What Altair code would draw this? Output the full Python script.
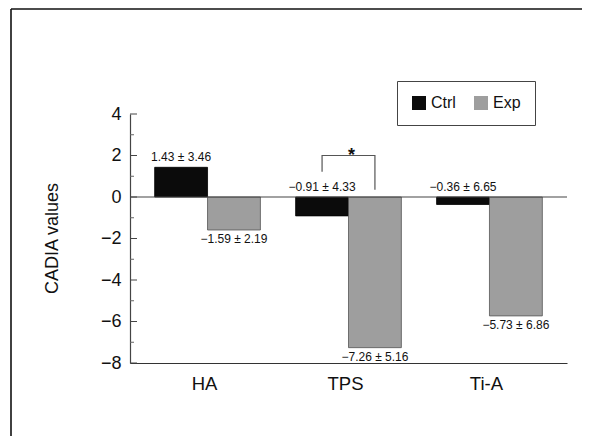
import altair as alt
import pandas as pd

FONT = "Liberation Sans"

categories = ["HA", "TPS", "Ti-A"]
groups = ["Ctrl", "Exp"]
ctrl_means = [1.43, -0.91, -0.36]
ctrl_sds = [3.46, 4.33, 6.65]
exp_means = [-1.59, -7.26, -5.73]
exp_sds = [2.19, 5.16, 6.86]

major_ticks = [-8, -6, -4, -2, 0, 2, 4]
minor_ticks = [-7, -5, -3, -1, 1, 3]

# significance bracket over TPS (Ctrl -> Exp)
bracket_groups = ["Ctrl", "Ctrl", "Exp", "Exp"]
bracket_y = [1.22, 2.0, 2.0, 0.35]
bracket_cat = "TPS"


def fmt(v):
    s = f"{abs(v):.2f}"
    return ("\u2212" + s) if v < 0 else s


rows = []
for i, c in enumerate(categories):
    rows.append({"cat": c, "group": "Ctrl", "value": ctrl_means[i],
                 "label": f"{fmt(ctrl_means[i])} \u00b1 {ctrl_sds[i]:.2f}"})
    rows.append({"cat": c, "group": "Exp", "value": exp_means[i],
                 "label": f"{fmt(exp_means[i])} \u00b1 {exp_sds[i]:.2f}"})
df = pd.DataFrame(rows)

bracket_df = pd.DataFrame({
    "cat": [bracket_cat] * len(bracket_y),
    "group": bracket_groups,
    "y": bracket_y,
    "seq": list(range(len(bracket_y))),
})

x_scale = alt.Scale(domain=categories, paddingInner=0.25, paddingOuter=0.175)
xo_scale = alt.Scale(domain=groups, paddingInner=0, paddingOuter=0)
y_scale = alt.Scale(domain=[-8, 4], nice=False, zero=False)

x_axis = alt.Axis(labelAngle=0, ticks=False, labelPadding=11,
                  labelFontSize=18.5, labelFont=FONT, labelColor="#111",
                  domainColor="#333", domainWidth=1.2, labelOffset=-3, grid=False)
y_axis = alt.Axis(values=major_ticks, ticks=False, labelPadding=9,
                  labelFontSize=18, labelFont=FONT, labelColor="#111",
                  domainColor="#444", domainWidth=1.2, grid=False,
                  titleFontSize=18, titleFont=FONT, titleFontWeight="normal",
                  titleColor="#111", titleX=-78, titleY=124,
                  titleBaseline="middle", titleAlign="center", titleAngle=270)
Y_TITLE = "CADIA values"


def xenc():
    return alt.X("cat:N", scale=x_scale, title=None, sort=categories, axis=x_axis)


def yenc(field):
    return alt.Y(field, scale=y_scale, title=Y_TITLE, axis=y_axis)


xo_enc = alt.XOffset("group:N", scale=xo_scale, sort=groups)

color_scale = alt.Scale(domain=groups, range=["#0b0b0b", "#9e9e9e"])

bars = alt.Chart(df).mark_bar(strokeWidth=0.8).encode(
    x=xenc(),
    xOffset=xo_enc,
    y=yenc("value:Q"),
    color=alt.Color("group:N", scale=color_scale, sort=groups,
                    legend=alt.Legend(orient="none", legendX=267, legendY=-33,
                                      direction="horizontal", title=None,
                                      symbolType="square", symbolSize=196,
                                      symbolStrokeWidth=0,
                                      labelFontSize=16, labelFont=FONT, labelColor="#111",
                                      labelOffset=4, columnPadding=17, padding=14,
                                      strokeColor="#444", fillColor="white",
                                      labelExpr="datum.label == 'Exp' ? 'Exp   ' : datum.label")),
    stroke=alt.Stroke("group:N", scale=alt.Scale(domain=groups, range=["#000000", "#555555"]),
                      legend=None),
)

zero_line = alt.Chart(pd.DataFrame({"z": [0]})).mark_rule(color="#444", strokeWidth=1.2).encode(
    y=yenc("z:Q")
)

major = alt.Chart(pd.DataFrame({"t": major_ticks})).mark_rule(color="#444", strokeWidth=1).encode(
    y=yenc("t:Q"),
    x=alt.value(0), x2=alt.value(7),
)
minor = alt.Chart(pd.DataFrame({"t": minor_ticks})).mark_rule(color="#666", strokeWidth=1).encode(
    y=yenc("t:Q"),
    x=alt.value(0), x2=alt.value(4),
)

ctrl_labels = alt.Chart(df).transform_filter(alt.datum.group == "Ctrl").transform_calculate(
    ly="max(datum.value, 0)"
).mark_text(baseline="bottom", dy=-3, fontSize=12, font=FONT, color="#111").encode(
    x=xenc(), xOffset=xo_enc,
    y=yenc("ly:Q"),
    text="label:N",
)
exp_labels = alt.Chart(df).transform_filter(alt.datum.group == "Exp").mark_text(
    baseline="top", dy=4, fontSize=12, font=FONT, color="#111"
).encode(
    x=xenc(), xOffset=xo_enc,
    y=yenc("value:Q"),
    text="label:N",
)

bracket = alt.Chart(bracket_df).mark_line(color="#555", strokeWidth=1.2).encode(
    x=xenc(), xOffset=xo_enc,
    y=yenc("y:Q"),
    order=alt.Order("seq:Q"),
)

star = alt.Chart(pd.DataFrame({"cat": [bracket_cat], "y": [max(bracket_y)], "t": ["*"]})).mark_text(
    baseline="alphabetic", dy=5, dx=3, fontSize=18, fontWeight="bold", font=FONT, color="#111"
).encode(
    x=xenc(),
    y=yenc("y:Q"),
    text="t:N",
)

frame_v = alt.Chart(pd.DataFrame({"a": [0]})).mark_rule(color="#111", strokeWidth=1.6).encode(
    x=alt.value(-119), y=alt.value(-105), y2=alt.value(340)
)
frame_h = alt.Chart(pd.DataFrame({"a": [0]})).mark_rule(color="#111", strokeWidth=1.6).encode(
    x=alt.value(-119), x2=alt.value(470), y=alt.value(-105)
)

chart = alt.layer(
    bars, zero_line, major, minor, ctrl_labels, exp_labels, bracket, star, frame_v, frame_h
).resolve_scale(color="independent").properties(
    width=437, height=249,
    autosize=alt.AutoSizeParams(type="none"),
    padding={"left": 122, "top": 106, "right": 15, "bottom": 73},
    background="white",
).configure_view(strokeWidth=0)

chart.save("out.html", embed_options={"renderer": "svg", "actions": False})
